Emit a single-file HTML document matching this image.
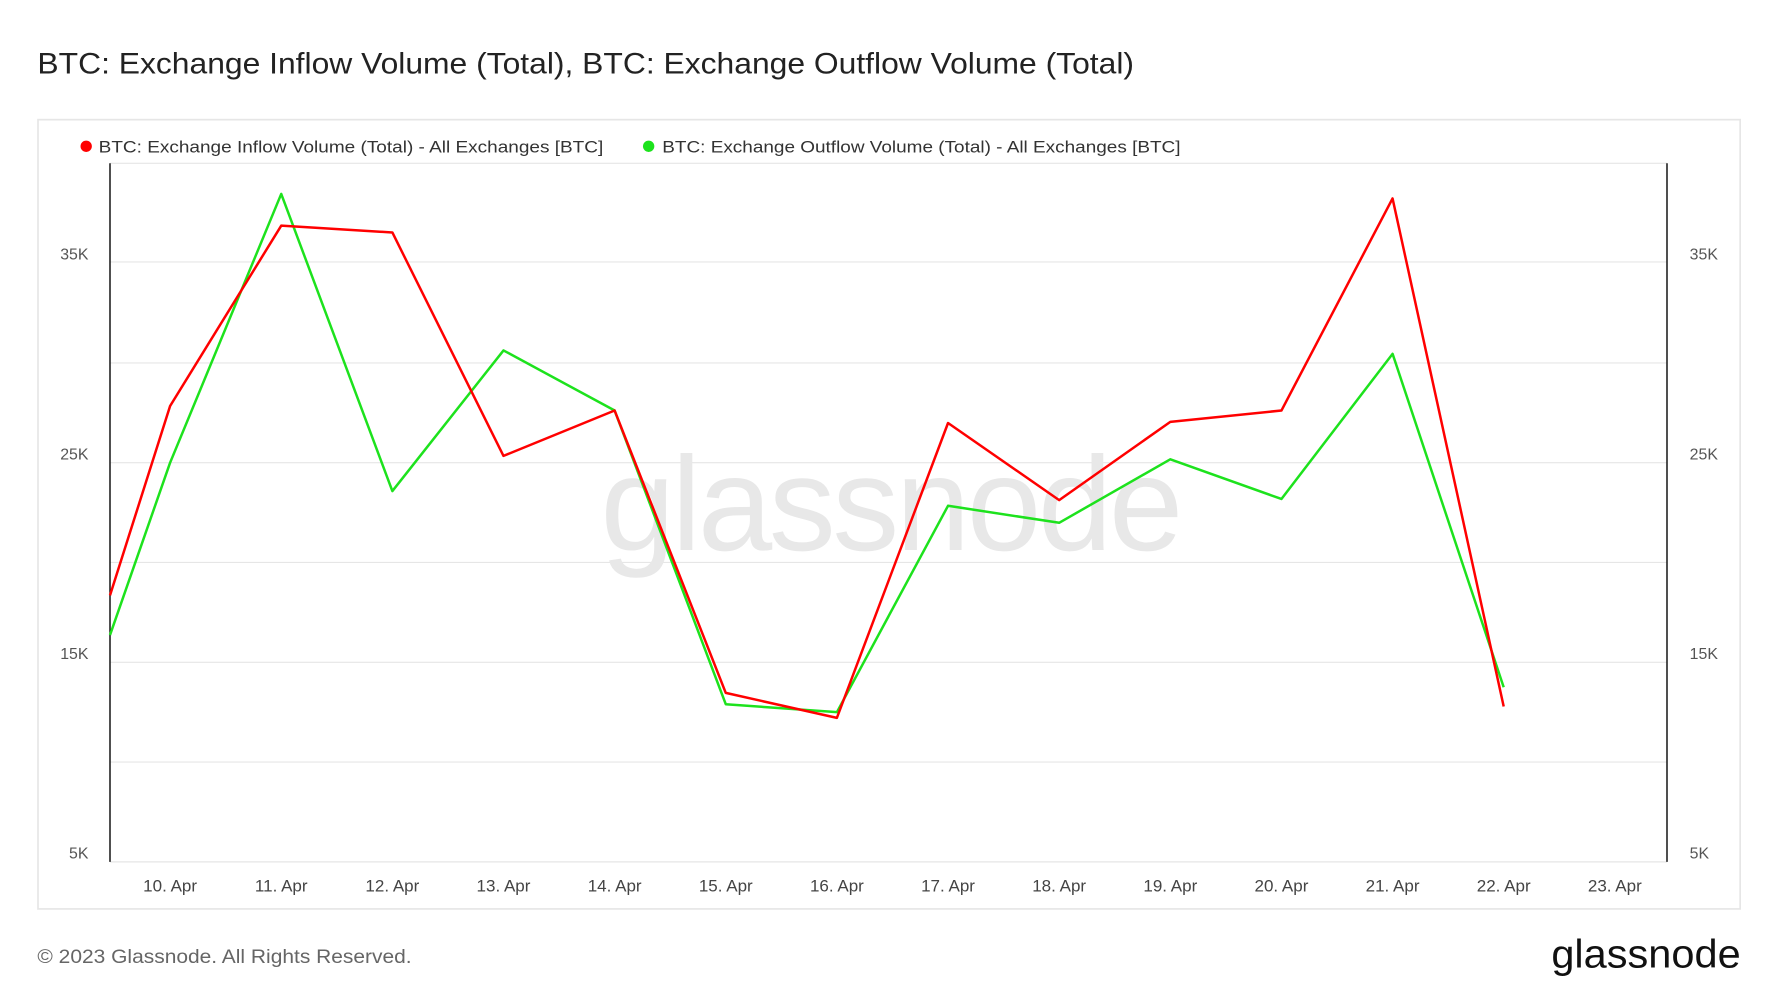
<!DOCTYPE html>
<html><head><meta charset="utf-8"><style>
html,body{margin:0;padding:0;background:#fff;}
svg{display:block;}
text{font-family:"Liberation Sans",sans-serif;}
</style></head><body>
<svg width="1777" height="1000" viewBox="0 0 1567 881.8" preserveAspectRatio="none" xmlns="http://www.w3.org/2000/svg">
<rect width="1600" height="900" fill="#fff"/>
<text x="33" y="65" font-size="26" fill="#222" textLength="967" lengthAdjust="spacingAndGlyphs">BTC: Exchange Inflow Volume (Total), BTC: Exchange Outflow Volume (Total)</text>
<rect x="33.5" y="105.5" width="1501" height="696" fill="#fff" stroke="#e6e6e6" stroke-width="1.5"/>
<circle cx="76" cy="129" r="5" fill="#ff0000"/>
<text x="87" y="134.5" font-size="15" fill="#333" textLength="445" lengthAdjust="spacingAndGlyphs">BTC: Exchange Inflow Volume (Total) - All Exchanges [BTC]</text>
<circle cx="572" cy="129" r="5" fill="#1de21d"/>
<text x="584" y="134.5" font-size="15" fill="#333" textLength="457" lengthAdjust="spacingAndGlyphs">BTC: Exchange Outflow Volume (Total) - All Exchanges [BTC]</text>
<g stroke="#e6e6e6" stroke-width="1">
<line x1="97" y1="144" x2="1470" y2="144"/>
<line x1="97" y1="231" x2="1470" y2="231"/>
<line x1="97" y1="320" x2="1470" y2="320"/>
<line x1="97" y1="408" x2="1470" y2="408"/>
<line x1="97" y1="496" x2="1470" y2="496"/>
<line x1="97" y1="584" x2="1470" y2="584"/>
<line x1="97" y1="672" x2="1470" y2="672"/>
<line x1="97" y1="760" x2="1470" y2="760"/>
</g>
<line x1="97" y1="144" x2="97" y2="760" stroke="#111" stroke-width="1.3"/>
<line x1="1470" y1="144" x2="1470" y2="760" stroke="#111" stroke-width="1.3"/>
<g font-size="14" fill="#555">
<text x="78" y="229" text-anchor="end">35K</text>
<text x="78" y="405" text-anchor="end">25K</text>
<text x="78" y="581" text-anchor="end">15K</text>
<text x="78" y="757" text-anchor="end">5K</text>
<text x="1490" y="229">35K</text>
<text x="1490" y="405">25K</text>
<text x="1490" y="581">15K</text>
<text x="1490" y="757">5K</text>
</g>
<g font-size="15" fill="#444" text-anchor="middle">
<text x="150" y="786">10. Apr</text>
<text x="248" y="786">11. Apr</text>
<text x="346" y="786">12. Apr</text>
<text x="444" y="786">13. Apr</text>
<text x="542" y="786">14. Apr</text>
<text x="640" y="786">15. Apr</text>
<text x="738" y="786">16. Apr</text>
<text x="836" y="786">17. Apr</text>
<text x="934" y="786">18. Apr</text>
<text x="1032" y="786">19. Apr</text>
<text x="1130" y="786">20. Apr</text>
<text x="1228" y="786">21. Apr</text>
<text x="1326" y="786">22. Apr</text>
<text x="1424" y="786">23. Apr</text>
</g>
<text x="785" y="485" font-size="118" fill="#e8e8e8" text-anchor="middle" letter-spacing="-3">glassnode</text>
<polyline fill="none" stroke="#1de21d" stroke-width="2.2" stroke-linejoin="round" points="97,560 150,408 248,171 346,433 444,309 542,362 640,621 738,628 836,446 934,461 1032,405 1130,440 1228,312 1326,606"/>
<polyline fill="none" stroke="#ff0000" stroke-width="2.2" stroke-linejoin="round" points="97,525 150,358 248,199 346,205 444,402 542,362 640,611 738,633 836,373 934,441 1032,372 1130,362 1228,175 1326,623"/>
<text x="33" y="849" font-size="17" fill="#666" textLength="330" lengthAdjust="spacingAndGlyphs">© 2023 Glassnode. All Rights Reserved.</text>
<text x="1535" y="853" font-size="35" fill="#111" text-anchor="end" textLength="167" lengthAdjust="spacingAndGlyphs">glassnode</text>
</svg>
</body></html>
